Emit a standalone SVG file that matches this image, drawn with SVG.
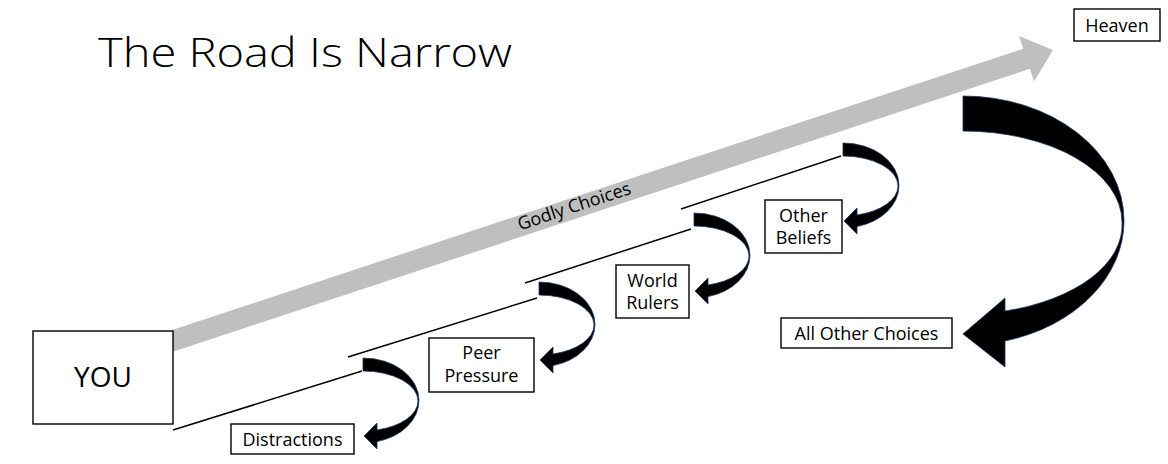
<svg xmlns="http://www.w3.org/2000/svg" xmlns:xlink="http://www.w3.org/1999/xlink" width="1168" height="464" viewBox="0 0 1168 464">
<style>
  .box{fill:#fff;stroke:#000;stroke-width:1.4}
  .lbl{font-family:"Open Sans","Liberation Sans",sans-serif;font-size:18px;fill:#000;text-anchor:middle}
  .road{stroke:#000;stroke-width:1.5;fill:none}
  .carrow{fill:#000;stroke:#1f3864;stroke-width:0.8}
</style>
<defs>
  <path id="smallArrow" d="M0,0 A56,42.5 0 0 1 56,42.5 A56,42.5 0 0 1 14,83.6 L14,91 L1,78 L14,65 L14,72 A55,30 0 0 0 55,43 A55,30 0 0 0 0,13 Z"/>
</defs>
<rect width="1168" height="464" fill="#fff"/>

<text id="title" x="98" y="67" font-family="'Open Sans','Liberation Sans',sans-serif" font-weight="300" font-size="40" textLength="414" lengthAdjust="spacingAndGlyphs">The Road Is Narrow</text>

<g id="connectors">
  <polygon id="godly-arrow" points="172,330 1023.3,48.8 1019.1,36 1053,50 1034.1,81.6 1029.9,68.8 172,352" fill="#bfbfbf"/>
  <text class="lbl" x="0" y="0" style="font-size:18px" transform="translate(576,212) rotate(-18.3)">Godly Choices</text>
  <line class="road" x1="173" y1="430" x2="362" y2="371"/>
  <line class="road" x1="348" y1="357" x2="537" y2="298"/>
  <line class="road" x1="525" y1="283" x2="691" y2="229"/>
  <line class="road" x1="681" y1="209" x2="841" y2="156"/>
  <use class="carrow" xlink:href="#smallArrow" href="#smallArrow" transform="translate(363,358)"/>
  <use class="carrow" xlink:href="#smallArrow" href="#smallArrow" transform="translate(539,282)"/>
  <use class="carrow" xlink:href="#smallArrow" href="#smallArrow" transform="translate(694,213)"/>
  <use class="carrow" xlink:href="#smallArrow" href="#smallArrow" transform="translate(843,143)"/>
  <path class="carrow" d="M963,96 A161,124.5 0 0 1 1124,220.5 A161,124.5 0 0 1 1005,341 L1005,367 L963,334 L1005,298 L1005,311 A159,89 0 0 0 1122,222 A159,91 0 0 0 963,131 Z"/>
</g>

<g id="you">
  <rect class="box" x="33" y="331" width="140" height="93"/>
  <text class="lbl" x="103" y="387" style="font-size:28px">YOU</text>
</g>
<g id="heaven">
  <rect class="box" x="1074" y="9" width="86" height="32"/>
  <text class="lbl" x="1117" y="31.5">Heaven</text>
</g>
<g id="distractions">
  <rect class="box" x="231" y="424" width="123" height="30"/>
  <text class="lbl" x="292.5" y="445.5">Distractions</text>
</g>
<g id="peer-pressure">
  <rect class="box" x="429" y="338" width="105" height="54"/>
  <text class="lbl" x="481.5" y="359">Peer</text>
  <text class="lbl" x="481.5" y="382">Pressure</text>
</g>
<g id="world-rulers">
  <rect class="box" x="616" y="265" width="73" height="53"/>
  <text class="lbl" x="652.5" y="287">World</text>
  <text class="lbl" x="652.5" y="309">Rulers</text>
</g>
<g id="other-beliefs">
  <rect class="box" x="765" y="200" width="77" height="53"/>
  <text class="lbl" x="803.5" y="222">Other</text>
  <text class="lbl" x="803.5" y="244">Beliefs</text>
</g>
<g id="all-other-choices">
  <rect class="box" x="781" y="318" width="171" height="30"/>
  <text class="lbl" x="866.5" y="339.5">All Other Choices</text>
</g>
</svg>
